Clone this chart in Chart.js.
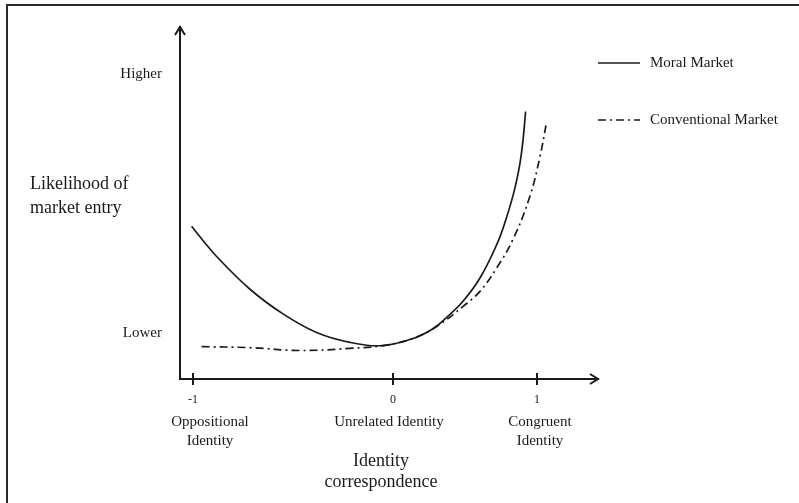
<!DOCTYPE html>
<html>
<head>
<meta charset="utf-8">
<title>Likelihood of market entry</title>
<script src="https://cdn.jsdelivr.net/npm/chart.js@4.4.1/dist/chart.umd.min.js"></script>
<style>
    html, body { margin: 0; padding: 0; background: #fff; }
    #wrap { position: relative; width: 799px; height: 503px; }
    #frame {
        position: absolute; left: 6px; top: 4px; right: 0; bottom: 0;
        border-left: 2px solid #2a2a2a; border-top: 2px solid #2a2a2a;
    }
    #chart { position: absolute; left: 0; top: 0; }
</style>
</head>
<body>
<div id="wrap">
    <div id="frame"></div>
    <canvas id="chart" width="799" height="503"></canvas>
</div>
<script>
// Data (x: identity correspondence, y: relative likelihood 0-100)
const moralX = [-1.007, -0.945, -0.882, -0.715, -0.55, -0.382, -0.215, -0.05, 0.10, 0.20, 0.268, 0.35, 0.435, 0.518, 0.56, 0.60, 0.62, 0.635, 0.65, 0.663];
const moralY = [43.4, 39.0, 34.8, 25.5, 18.5, 13.2, 10.4, 9.5, 11.5, 14.3, 17.5, 22.1, 28.7, 38.1, 44.5, 52.1, 56.9, 61.3, 67.8, 76.0];

const conventionalX = [-0.957, -0.715, -0.465, -0.215, -0.05, 0.10, 0.22, 0.352, 0.435, 0.518, 0.602, 0.685, 0.735, 0.768];
const conventionalY = [9.2, 8.9, 8.1, 8.7, 9.5, 11.5, 15.0, 20.7, 24.9, 31.5, 39.9, 52.0, 63.2, 73.0];

const seriesNames = ['Moral Market', 'Conventional Market'];

// Axis ticks
const xTickValues = [-1, 0, 0.72];
const xTickLabels = ['-1', '0', '1'];
const xCategoryLabels = [['Oppositional', 'Identity'], ['Unrelated Identity'], ['Congruent', 'Identity']];
const yTickValues = [13, 86.5];
const yTickLabels = ['Lower', 'Higher'];

const xTitle = ['Identity', 'correspondence'];
const yTitle = ['Likelihood of', 'market entry'];

const FONT = '"Liberation Serif", "Times New Roman", serif';
const INK = '#1a1a1a';
const DASH_DOT = [8, 4, 2, 4];

// Category label centres (x value), slightly offset from the ticks like the original
const categoryAnchors = [-0.915, -0.02, 0.735];

function toPoints(xs, ys) {
    return xs.map((x, i) => ({ x: x, y: ys[i] }));
}

// Draws arrows, crossing tick marks, extra labels and the legend
const decorations = {
    id: 'decorations',
    afterDraw(chart) {
        const ctx = chart.ctx;
        const area = chart.chartArea;
        const xScale = chart.scales.x;
        ctx.save();
        ctx.strokeStyle = INK;
        ctx.fillStyle = INK;
        ctx.lineWidth = 2;

        // arrow heads
        ctx.beginPath();
        ctx.moveTo(area.left - 5, area.top + 8);
        ctx.lineTo(area.left, area.top);
        ctx.lineTo(area.left + 5, area.top + 8);
        ctx.moveTo(area.right - 8, area.bottom - 5);
        ctx.lineTo(area.right, area.bottom);
        ctx.lineTo(area.right - 8, area.bottom + 5);
        ctx.stroke();

        // tick marks across the x axis
        ctx.beginPath();
        xTickValues.forEach(v => {
            const px = Math.round(xScale.getPixelForValue(v));
            ctx.moveTo(px, area.bottom - 6);
            ctx.lineTo(px, area.bottom + 6);
        });
        ctx.stroke();

        // category labels under the ticks
        ctx.font = '15px ' + FONT;
        ctx.textAlign = 'center';
        ctx.textBaseline = 'middle';
        xCategoryLabels.forEach((lines, i) => {
            const px = xScale.getPixelForValue(categoryAnchors[i]);
            lines.forEach((line, j) => ctx.fillText(line, px, 422 + j * 19));
        });

        // x axis title
        ctx.font = '18px ' + FONT;
        const midX = xScale.getPixelForValue(-0.06);
        xTitle.forEach((line, j) => ctx.fillText(line, midX, 461 + j * 21));

        // y axis title, horizontal
        ctx.textAlign = 'left';
        ctx.textBaseline = 'alphabetic';
        yTitle.forEach((line, j) => ctx.fillText(line, 30, 189 + j * 24));

        // legend
        ctx.font = '15px ' + FONT;
        ctx.textBaseline = 'middle';
        chart.data.datasets.forEach((ds, i) => {
            const y = 63 + i * 57;
            ctx.lineWidth = 1.7;
            ctx.setLineDash(ds.borderDash || []);
            ctx.beginPath();
            ctx.moveTo(598, y);
            ctx.lineTo(640, y);
            ctx.stroke();
            ctx.setLineDash([]);
            ctx.fillText(ds.label, 650, y);
        });
        ctx.restore();
    }
};

const ctx = document.getElementById('chart');

new Chart(ctx, {
    type: 'line',
    data: {
        datasets: [
            {
                label: seriesNames[0],
                data: toPoints(moralX, moralY),
                borderColor: INK,
                borderWidth: 1.7,
                pointRadius: 0,
                tension: 0.4,
                fill: false
            },
            {
                label: seriesNames[1],
                data: toPoints(conventionalX, conventionalY),
                borderColor: INK,
                borderWidth: 1.7,
                borderDash: DASH_DOT,
                pointRadius: 0,
                tension: 0.4,
                fill: false
            }
        ]
    },
    options: {
        responsive: false,
        animation: false,
        devicePixelRatio: 1,
        layout: {
            padding: { left: 0, top: 22, right: 201, bottom: 0 }
        },
        plugins: {
            legend: { display: false },
            tooltip: { enabled: false }
        },
        scales: {
            x: {
                type: 'linear',
                min: -1.065,
                max: 1.025,
                grid: { display: false, drawTicks: false },
                border: { display: true, color: INK, width: 2 },
                afterBuildTicks: scale => {
                    scale.ticks = xTickValues.map(v => ({ value: v }));
                },
                afterFit: scale => { scale.height = 124; },
                ticks: {
                    color: INK,
                    padding: 14,
                    maxRotation: 0,
                    font: { family: FONT, size: 12 },
                    callback: (value, index) => xTickLabels[index]
                }
            },
            y: {
                type: 'linear',
                min: 0,
                max: 100,
                grid: { display: false, drawTicks: false },
                border: { display: true, color: INK, width: 2 },
                afterBuildTicks: scale => {
                    scale.ticks = yTickValues.map(v => ({ value: v }));
                },
                afterFit: scale => { scale.width = 180; },
                ticks: {
                    color: INK,
                    padding: 18,
                    font: { family: FONT, size: 15 },
                    callback: (value, index) => yTickLabels[index]
                }
            }
        }
    },
    plugins: [decorations]
});
</script>
</body>
</html>
